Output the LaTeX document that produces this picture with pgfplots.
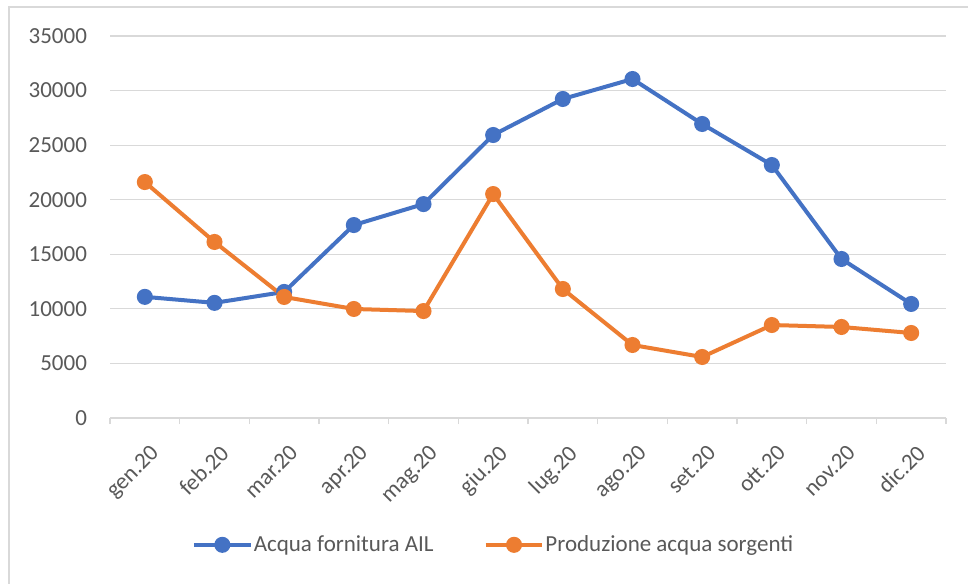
\documentclass[border=0pt]{standalone}
\usepackage{pgfplots}
\pgfplotsset{compat=1.18}
\usepackage{fontspec}
\setmainfont{Carlito}
\definecolor{cblue}{HTML}{4472C4}
\definecolor{corange}{HTML}{ED7D31}
\definecolor{cgrid}{HTML}{D9D9D9}
\definecolor{ctext}{HTML}{595959}
\begin{document}
\begin{tikzpicture}
\useasboundingbox (0,0) rectangle (484pt,-291.5pt);
\fill[white] (0,0) rectangle (484pt,-291.5pt);
\draw[cgrid, line width=0.8pt] (4.5pt,-600pt) -- (4.5pt,-3.5pt) -- (700pt,-3.5pt);
\begin{axis}[
  at={(55pt,-209pt)}, anchor=south west,
  width=418pt, height=191pt, scale only axis,
  xmin=-0.5, xmax=11.5, ymin=0, ymax=35000,
  ytick={0,5000,...,35000},
  xtick={0,...,11},
  xticklabels={gen.20,feb.20,mar.20,apr.20,mag.20,giu.20,lug.20,ago.20,set.20,ott.20,nov.20,dic.20},
  extra x ticks={-0.5,0.5,...,11.5},
  extra x tick labels={},
  extra x tick style={major tick length=3pt, tick align=outside, tick style={cgrid, line width=0.6pt}, grid=none},
  major tick length=0pt,
  axis y line*=left,
  y axis line style={draw=none},
  axis x line*=bottom,
  x axis line style={cgrid, line width=0.8pt, -},
  ymajorgrids, grid style={cgrid, line width=0.6pt},
  scaled y ticks=false,
  /pgf/number format/assume math mode=true,
  /pgf/number format/set thousands separator={},
  yticklabel style={font=\fontsize{11.5}{13}\selectfont, text=ctext, xshift=-8pt},
  xticklabel style={font=\fontsize{11.5}{13}\selectfont, text=ctext, rotate=45, anchor=north east, xshift=-4pt, yshift=-7pt},
  clip=false,
  legend style={at={(axis description cs:0.4600,-0.332)}, anchor=center, draw=none, fill=none,
    font=\fontsize{11.5}{13}\selectfont, text=ctext, column sep=-1.5pt,
    /tikz/every even column/.append style={column sep=23pt}},
  legend columns=2,
  legend cell align=left,
  legend image code/.code={\draw[mark repeat=2,mark phase=2] plot coordinates {(0cm,0cm)(0.5cm,0cm)(1cm,0cm)};},
]
\addplot[cblue, line width=2pt, mark=*, mark size=3pt, mark options={solid, fill=cblue}] coordinates {
(0,11100) (1,10550) (2,11550) (3,17680) (4,19600) (5,25930) (6,29230) (7,31060) (8,26940) (9,23180) (10,14570) (11,10450)};
\addlegendentry{Acqua fornitura AIL}
\addplot[corange, line width=2pt, mark=*, mark size=3pt, mark options={solid, fill=corange}] coordinates {
(0,21620) (1,16130) (2,11090) (3,9990) (4,9800) (5,20520) (6,11820) (7,6690) (8,5590) (9,8520) (10,8340) (11,7790)};
\addlegendentry{Produzione acqua sorgenti}
\end{axis}
\end{tikzpicture}
\end{document}
